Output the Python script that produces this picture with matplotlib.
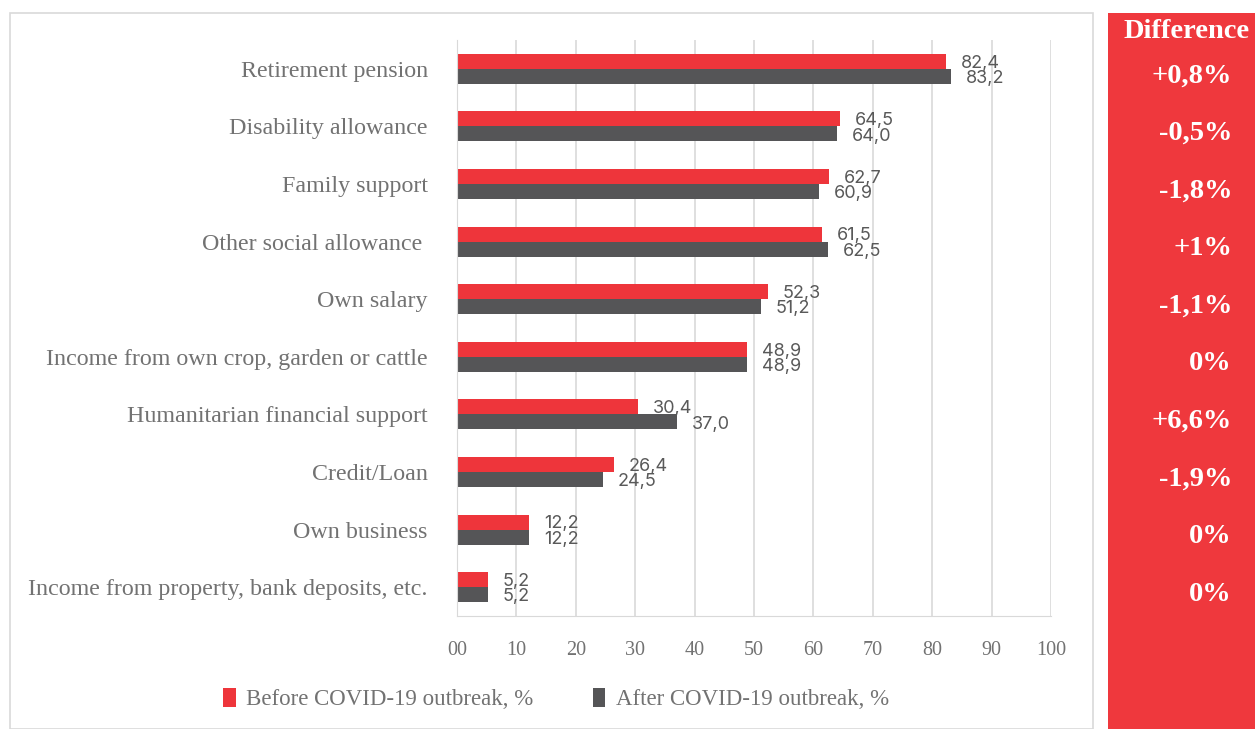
import matplotlib.pyplot as plt
import matplotlib.patches as patches
import numpy as np

categories = [
    "Retirement pension",
    "Disability allowance",
    "Family support",
    "Other social allowance ",
    "Own salary",
    "Income from own crop, garden or cattle",
    "Humanitarian financial support",
    "Credit/Loan",
    "Own business",
    "Income from property, bank deposits, etc.",
]
before = [82.4, 64.5, 62.7, 61.5, 52.3, 48.9, 30.4, 26.4, 12.2, 5.2]
after = [83.2, 64.0, 60.9, 62.5, 51.2, 48.9, 37.0, 24.5, 12.2, 5.2]
difference = ["+0,8%", "-0,5%", "-1,8%", "+1%", "-1,1%", "0%", "+6,6%", "-1,9%", "0%", "0%"]
xticks = [0, 10, 20, 30, 40, 50, 60, 70, 80, 90, 100]
xtick_labels = ["00", "10", "20", "30", "40", "50", "60", "70", "80", "90", "100"]

red = "#EE353B"
dark = "#555557"
gray_text = "#595959"
label_gray = "#727272"
serif = "Liberation Serif"

W, H = 1255, 729
fig = plt.figure(figsize=(W / 100, H / 100), dpi=100)

# chart frame and red side panel
fig.patches.append(patches.Rectangle((10 / W, 0), 1083 / W, 1 - 13 / H, transform=fig.transFigure,
                                     facecolor="white", edgecolor="#D9D9D9", linewidth=1.2, zorder=-2))
fig.patches.append(patches.Rectangle((1108 / W, 0), 147 / W, 1 - 13 / H, transform=fig.transFigure,
                                     facecolor="#EF383D", edgecolor="none", zorder=-2))

ax = fig.add_axes([457 / W, 1 - 616 / H, 594 / W, 576 / H])
ax.set_zorder(2)
y = np.arange(len(categories))
h = 0.26
ax.barh(y - h / 2, before, height=h, color=red, label="Before COVID-19 outbreak, %", zorder=3)
ax.barh(y + h / 2, after, height=h, color=dark, label="After COVID-19 outbreak, %", zorder=3)

for i in range(len(categories)):
    ax.text(before[i] + 2.5, y[i] - h / 2 + 0.03, f"{before[i]:.1f}".replace(".", ","),
            va="center", ha="left", fontsize=13, color=gray_text, family="Inter")
    ax.text(after[i] + 2.5, y[i] + h / 2 + 0.04, f"{after[i]:.1f}".replace(".", ","),
            va="center", ha="left", fontsize=13, color=gray_text, family="Inter")

ax.set_xlim(0, 100)
ax.set_ylim(len(categories) - 0.5, -0.5)
ax.set_xticks(xticks)
ax.set_xticklabels(xtick_labels, family=serif, fontsize=14.5, color=label_gray)
ax.set_yticks(y)
ax.set_yticklabels(categories, family=serif, fontsize=17.3, color=label_gray)
ax.tick_params(axis="y", length=0, pad=21)
ax.tick_params(axis="x", length=0, pad=18)
ax.grid(axis="x", color="#D9D9D9", linewidth=1.2, zorder=0)
for s in ["top", "right"]:
    ax.spines[s].set_visible(False)
ax.spines["left"].set_color("#D9D9D9")
ax.spines["bottom"].set_color("#D9D9D9")
ax.spines["left"].set_zorder(4)

leg = fig.legend(loc="center", bbox_to_anchor=(556 / W, 1 - 699 / H), ncol=2, frameon=False,
                 prop={"family": serif, "size": 16.5}, handlelength=0.55, handleheight=0.9,
                 handletextpad=0.45, columnspacing=2.6)
for t in leg.get_texts():
    t.set_color(label_gray)

# difference column
fig.text(1187 / W, 1 - 31 / H, "Difference", ha="center", va="center", color="white",
         fontsize=20.5, fontweight="bold", family=serif)
for i, d in enumerate(difference):
    yc = ax.transData.transform((0, y[i]))[1] / H
    fig.text(1232 / W, yc - 7 / H, d, ha="right", va="center", color="white",
             fontsize=20.5, fontweight="bold", family=serif)

fig.savefig("out.png", dpi=100)
